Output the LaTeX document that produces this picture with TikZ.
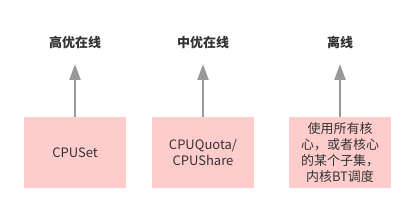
\documentclass[tikz,border=0pt]{standalone}
\usepackage{fontspec}
\setmainfont{Noto Sans CJK SC}
\usetikzlibrary{arrows.meta, positioning}

\definecolor{boxpink}{HTML}{FFCCCC}
\definecolor{arrowgray}{HTML}{999999}
\definecolor{textgray}{HTML}{333333}

\begin{document}
\begin{tikzpicture}[x=1pt, y=-1pt,
    level/.style={font=\fontsize{13}{16}\selectfont\bfseries, text=textgray},
    policy/.style={fill=boxpink, minimum width=102pt, minimum height=71pt,
        font=\fontsize{13}{16}\selectfont, text=textgray, align=center, inner sep=0pt},
    uparrow/.style={draw=arrowgray, line width=2.3pt,
        -{Triangle[length=16pt, width=11pt]}}]

    \useasboundingbox (0,0) rectangle (415,213);

    % ==========================================
    % RIQUADRI IN BASSO
    % ==========================================

    \node[policy] (cpuset) at (75,152.5) {CPUSet};
    \node[policy] (quota) at (203,152.5) {CPUQuota/\\CPUShare};
    \node[policy] (offbox) at (340,152.5) {使用所有核\\心，或者核心\\的某个子集，\\内核BT调度};

    % ==========================================
    % ETICHETTE IN ALTO
    % ==========================================

    \node[level] (high) at (75,43) {高优在线};
    \node[level] (mid) at (203,43) {中优在线};
    \node[level] (offline) at (340,43) {离线};

    % frecce verso le etichette
    \coordinate (tiphigh) at (75,64);
    \coordinate (tipmid) at (203,64);
    \coordinate (tipoff) at (340,64);

    \draw[uparrow] (cpuset.north) -- (tiphigh);
    \draw[uparrow] (quota.north) -- (tipmid);
    \draw[uparrow] (offbox.north) -- (tipoff);

\end{tikzpicture}
\end{document}
